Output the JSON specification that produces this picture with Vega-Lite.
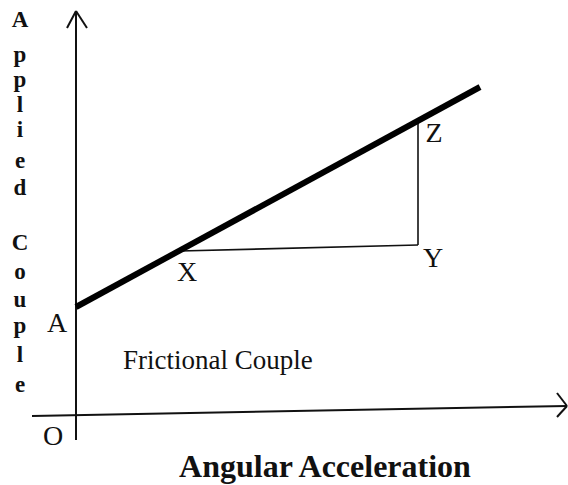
{
  "$schema": "https://vega.github.io/schema/vega-lite/v6.json",
  "width": 568,
  "height": 485,
  "autosize": {"type": "none"},
  "padding": 0,
  "background": "white",
  "config": {"view": {"stroke": null}},
  "resolve": {"scale": {"x": "shared", "y": "shared"}},
  "datasets": {
    "curve": [{"x": 0, "y": 109, "x2": 404, "y2": 329}],
    "construction": [
      {"x": 104, "y": 165, "x2": 342, "y2": 171},
      {"x": 342, "y": 171, "x2": 342, "y2": 296}
    ],
    "axes": [
      {"x": 0, "y": -24, "x2": 0, "y2": 405},
      {"x": -9, "y": 388, "x2": 0, "y2": 405},
      {"x": 11, "y": 388, "x2": 0, "y2": 405},
      {"x": -44, "y": 0, "x2": 491, "y2": 10},
      {"x": 481, "y": 23, "x2": 491, "y2": 10},
      {"x": 481, "y": -1, "x2": 491, "y2": 10}
    ],
    "letters": [
      {"x": -56, "y": 389, "t": "A"},
      {"x": -56, "y": 354, "t": "p"},
      {"x": -56, "y": 329, "t": "p"},
      {"x": -56, "y": 304, "t": "l"},
      {"x": -56, "y": 279, "t": "i"},
      {"x": -56, "y": 248, "t": "e"},
      {"x": -56, "y": 221, "t": "d"},
      {"x": -56, "y": 166, "t": "C"},
      {"x": -56, "y": 137, "t": "o"},
      {"x": -56, "y": 109, "t": "u"},
      {"x": -56, "y": 83, "t": "p"},
      {"x": -56, "y": 54, "t": "l"},
      {"x": -56, "y": 24, "t": "e"}
    ],
    "points": [
      {"x": -19, "y": 84, "t": "A"},
      {"x": 111, "y": 135, "t": "X"},
      {"x": 357, "y": 149, "t": "Y"},
      {"x": 358, "y": 274, "t": "Z"},
      {"x": -23, "y": -29, "t": "O"}
    ],
    "notes": [{"x": 47, "y": 47, "t": "Frictional Couple"}],
    "titles": [{"x": 249, "y": -61, "t": "Angular Acceleration"}]
  },
  "layer": [
    {
      "data": {"name": "axes"},
      "mark": {"type": "rule", "color": "#111", "strokeWidth": 2},
      "encoding": {
        "x": {"field": "x", "type": "quantitative", "scale": {"domain": [-76, 492], "nice": false, "zero": false}, "axis": null},
        "y": {"field": "y", "type": "quantitative", "scale": {"domain": [-69, 416], "nice": false, "zero": false}, "axis": null},
        "x2": {"field": "x2"},
        "y2": {"field": "y2"}
      }
    },
    {
      "data": {"name": "construction"},
      "mark": {"type": "rule", "color": "#111", "strokeWidth": 1.6},
      "encoding": {
        "x": {"field": "x", "type": "quantitative"},
        "y": {"field": "y", "type": "quantitative"},
        "x2": {"field": "x2"},
        "y2": {"field": "y2"}
      }
    },
    {
      "data": {"name": "curve"},
      "mark": {"type": "rule", "color": "#000", "strokeWidth": 6, "strokeCap": "butt"},
      "encoding": {
        "x": {"field": "x", "type": "quantitative"},
        "y": {"field": "y", "type": "quantitative"},
        "x2": {"field": "x2"},
        "y2": {"field": "y2"}
      }
    },
    {
      "data": {"name": "letters"},
      "mark": {"type": "text", "font": "Liberation Serif", "fontWeight": "bold", "fontSize": 23, "align": "center", "baseline": "alphabetic", "color": "#111"},
      "encoding": {
        "x": {"field": "x", "type": "quantitative"},
        "y": {"field": "y", "type": "quantitative"},
        "text": {"field": "t"}
      }
    },
    {
      "data": {"name": "points"},
      "mark": {"type": "text", "font": "Liberation Serif", "fontSize": 28, "align": "center", "baseline": "alphabetic", "color": "#111"},
      "encoding": {
        "x": {"field": "x", "type": "quantitative"},
        "y": {"field": "y", "type": "quantitative"},
        "text": {"field": "t"}
      }
    },
    {
      "data": {"name": "notes"},
      "mark": {"type": "text", "font": "Liberation Serif", "fontSize": 27, "align": "left", "baseline": "alphabetic", "color": "#111"},
      "encoding": {
        "x": {"field": "x", "type": "quantitative"},
        "y": {"field": "y", "type": "quantitative"},
        "text": {"field": "t"}
      }
    },
    {
      "data": {"name": "titles"},
      "mark": {"type": "text", "font": "Liberation Serif", "fontWeight": "bold", "fontSize": 32, "align": "center", "baseline": "alphabetic", "color": "#111"},
      "encoding": {
        "x": {"field": "x", "type": "quantitative"},
        "y": {"field": "y", "type": "quantitative"},
        "text": {"field": "t"}
      }
    }
  ]
}
